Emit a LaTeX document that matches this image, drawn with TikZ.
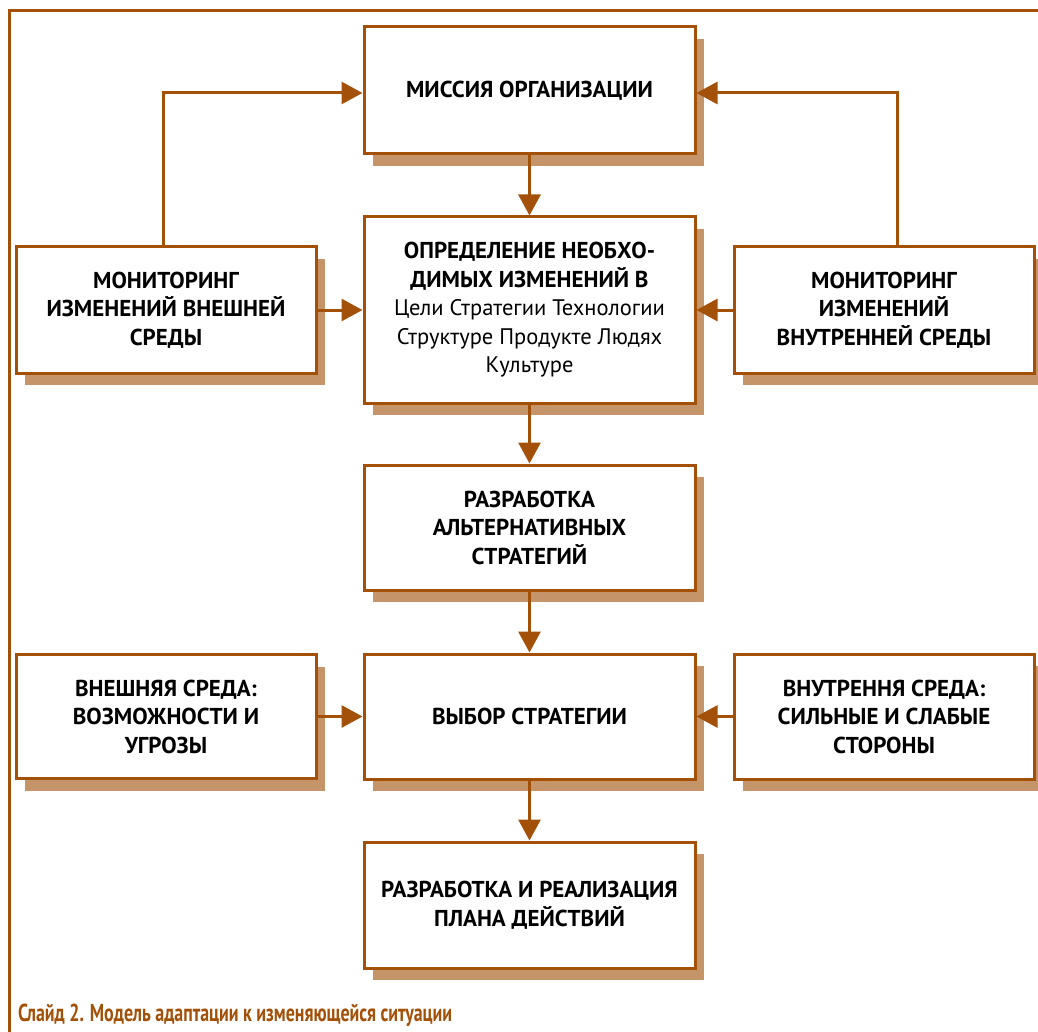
\documentclass[tikz,border=0pt]{standalone}
\usepackage{fontspec}
\setmainfont{PT Sans}
\usetikzlibrary{arrows.meta,shadows,calc}
\definecolor{brn}{RGB}{163,80,8}
\definecolor{shd}{RGB}{197,148,104}
\newcommand{\regtxt}{\mdseries\fontsize{22.5}{28.5}\selectfont}
\tikzset{
  box/.style={draw=brn, line width=3pt, fill=white, inner sep=0pt, align=center,
    font=\fontsize{23}{28.5}\selectfont\bfseries,
    drop shadow={shadow xshift=9pt, shadow yshift=-12pt, fill=shd, opacity=1}},
  arr/.style={draw=brn, line width=3pt, -{Triangle[width=22pt,length=21pt]}}
}
\begin{document}
\begin{tikzpicture}[x=1pt,y=-1pt]
\useasboundingbox (0,0) rectangle (1038,1032);
\draw[brn, line width=3pt] (1038,11) -- (9,11) -- (9,1032);

\node[box, minimum width=331pt, minimum height=127pt] (mis) at (529.5,90.5) {МИССИЯ ОРГАНИЗАЦИИ};
\node[box, minimum width=331pt, minimum height=186pt] (def) at (529.5,310) {ОПРЕДЕЛЕНИЕ НЕОБХО-\\ДИМЫХ ИЗМЕНЕНИЙ В\\{\regtxt Цели Стратегии Технологии}\\{\regtxt Структуре Продукте Людях}\\{\regtxt Культуре}};
\node[box, minimum width=300pt, minimum height=126pt] (lmon) at (166,310) {МОНИТОРИНГ\\ИЗМЕНЕНИЙ ВНЕШНЕЙ\\СРЕДЫ};
\node[box, minimum width=300pt, minimum height=126pt] (rmon) at (884,310) {МОНИТОРИНГ\\ИЗМЕНЕНИЙ\\ВНУТРЕННЕЙ СРЕДЫ};
\node[box, minimum width=331pt, minimum height=125pt] (alt) at (529.5,527.5) {РАЗРАБОТКА\\АЛЬТЕРНАТИВНЫХ\\СТРАТЕГИЙ};
\node[box, minimum width=331pt, minimum height=125pt] (sel) at (529.5,716.5) {ВЫБОР СТРАТЕГИИ};
\node[box, minimum width=300pt, minimum height=124pt] (ext) at (166,716.5) {ВНЕШНЯЯ СРЕДА:\\ВОЗМОЖНОСТИ И\\УГРОЗЫ};
\node[box, minimum width=300pt, minimum height=125pt] (int) at (884,716.5) {ВНУТРЕННЯ СРЕДА:\\СИЛЬНЫЕ И СЛАБЫЕ\\СТОРОНЫ};
\node[box, minimum width=331pt, minimum height=126pt] (plan) at (529.5,905) {РАЗРАБОТКА И РЕАЛИЗАЦИЯ\\ПЛАНА ДЕЙСТВИЙ};

\draw[arr] ([xshift=-3pt,yshift=-2.5pt]lmon.north) |- ([yshift=-2.5pt]mis.west);
\draw[arr] ([xshift=13pt]rmon.north) |- ([yshift=-2.5pt]mis.east);
\draw[arr] (mis) -- (def);
\draw[arr] (lmon) -- (def);
\draw[arr] (rmon) -- (def);
\draw[arr] (def) -- (alt);
\draw[arr] (alt) -- (sel);
\draw[arr] (ext) -- (sel);
\draw[arr] (int) -- (sel);
\draw[arr] (sel) -- (plan);

\node[anchor=base west, text=brn, inner sep=0pt, font=\fontsize{24.5}{28}\selectfont\bfseries\addfontfeature{FakeStretch=0.73}] (cap) at (18,1021) {Слайд 2. Модель адаптации к изменяющейся ситуации};
\end{tikzpicture}
\end{document}
